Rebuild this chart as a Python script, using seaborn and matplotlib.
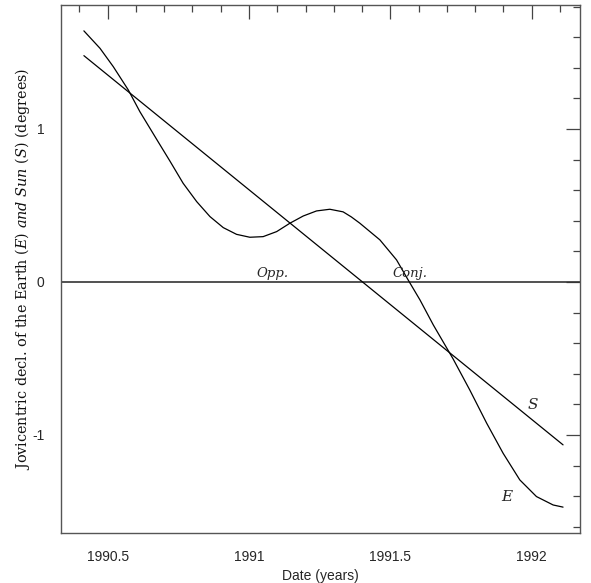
import matplotlib
matplotlib.use("Agg")
import matplotlib.pyplot as plt
import seaborn as sns
import pandas as pd
from matplotlib.ticker import MultipleLocator

# Data
earth_date = [1990.416, 1990.473, 1990.520, 1990.573, 1990.614, 1990.679, 1990.720,
              1990.767, 1990.815, 1990.862, 1990.909, 1990.956, 1991.003, 1991.050,
              1991.098, 1991.145, 1991.192, 1991.239, 1991.286, 1991.333, 1991.362,
              1991.392, 1991.463, 1991.522, 1991.563, 1991.605, 1991.652, 1991.722,
              1991.781, 1991.841, 1991.899, 1991.958, 1992.017, 1992.076, 1992.111]
earth_decl = [1.641, 1.527, 1.407, 1.255, 1.113, 0.915, 0.791,
              0.645, 0.525, 0.427, 0.355, 0.311, 0.292, 0.296,
              0.329, 0.384, 0.431, 0.464, 0.475, 0.458, 0.425,
              0.384, 0.275, 0.144, 0.013, -0.118, -0.281, -0.503,
              -0.706, -0.924, -1.120, -1.294, -1.403, -1.458, -1.472]
sun_date = [1990.416, 1992.111]
sun_decl = [1.479, -1.065]

x_ticks = [1990.5, 1991, 1991.5, 1992]
x_ticklabels = ["1990.5", "1991", "1991.5", "1992"]
y_ticks = [-1, 0, 1]
y_ticklabels = ["-1", "0", "1"]

sns.set_style("white")
plt.rcParams["font.family"] = ["Liberation Sans", "DejaVu Sans"]
plt.rcParams["mathtext.fontset"] = "dejavuserif"

fig = plt.figure(figsize=(5.91, 5.83), dpi=100)
ax = fig.add_axes([0.1032, 0.0858, 0.8782, 0.9056])

df_e = pd.DataFrame({"date": earth_date, "decl": earth_decl})
df_s = pd.DataFrame({"date": sun_date, "decl": sun_decl})
sns.lineplot(data=df_e, x="date", y="decl", ax=ax, color="black", lw=0.9,
             sort=False, estimator=None)
sns.lineplot(data=df_s, x="date", y="decl", ax=ax, color="black", lw=0.9,
             sort=False, estimator=None)
ax.axhline(0, color="#333333", lw=1.2, zorder=1)

ax.set_xlim(1990.335, 1992.171)
ax.set_ylim(-1.641, 1.810)

ax.set_xticks(x_ticks)
ax.set_xticklabels(x_ticklabels, fontsize=10)
ax.set_yticks(y_ticks)
ax.set_yticklabels(y_ticklabels, fontsize=10)
ax.xaxis.set_minor_locator(MultipleLocator(0.1))
ax.yaxis.set_minor_locator(MultipleLocator(0.2))
ax.tick_params(which="both", direction="in", top=True, right=True,
               color="#444444", width=0.9)
ax.tick_params(which="major", length=10, pad=12)
ax.tick_params(which="minor", length=5)
for sp in ax.spines.values():
    sp.set_color("#555555")
    sp.set_linewidth(1.0)

ax.set_xlabel("Date (years)", fontsize=10, labelpad=4)
ax.set_ylabel(r"Jovicentric decl. of the Earth ($E$) $and$ $Sun$ ($S$) (degrees)",
              fontsize=10.4, family="DejaVu Serif", color="#111111")
ax.yaxis.set_label_coords(-0.055, 0.5)

ax.text(1991.085, 0.015, "Opp.", fontsize=9.5, family="DejaVu Serif",
        style="italic", ha="center", va="bottom")
ax.text(1991.57, 0.015, "Conj.", fontsize=9.5, family="DejaVu Serif",
        style="italic", ha="center", va="bottom")
ax.text(1992.004, -0.804, r"$S$", fontsize=11, ha="center", va="center")
ax.text(1991.916, -1.405, r"$E$", fontsize=11, ha="center", va="center")

fig.savefig("out.png", dpi=100)
